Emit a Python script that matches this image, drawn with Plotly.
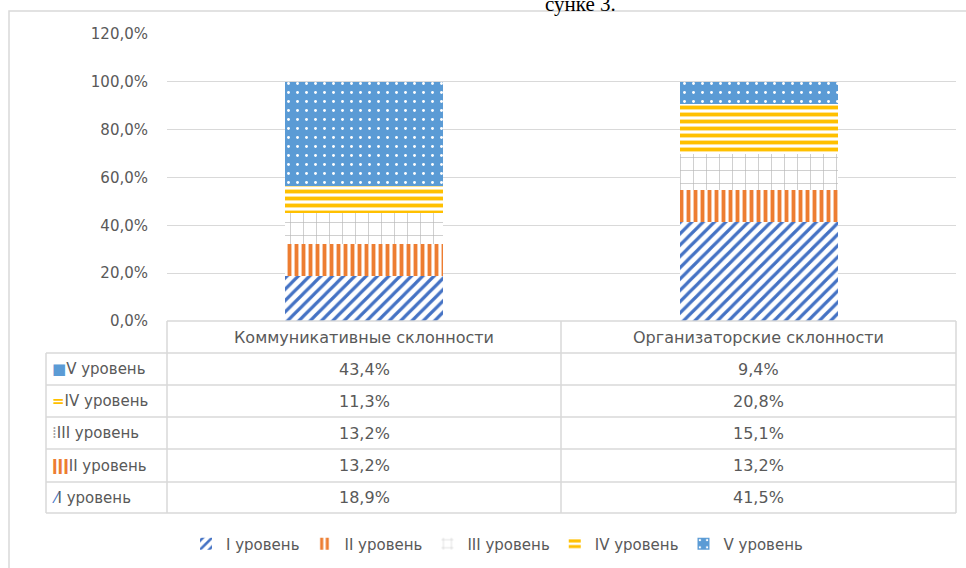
import plotly.graph_objects as go

categories = ["Коммуникативные склонности", "Организаторские склонности"]
levels = ["I уровень", "II уровень", "III уровень", "IV уровень", "V уровень"]
level_I = [0.189, 0.415]
level_II = [0.132, 0.132]
level_III = [0.132, 0.151]
level_IV = [0.113, 0.208]
level_V = [0.434, 0.094]
series = [level_I, level_II, level_III, level_IV, level_V]

styles = [
    dict(shape="/", fg="#4472C4", bg="white", size=8, sol=0.4),
    dict(shape="|", fg="#ED7D31", bg="white", size=7, sol=0.55),
    dict(shape="+", fg="#B8B8B8", bg="white", size=13, sol=0.1),
    dict(shape="-", fg="#FFC000", bg="white", size=7, sol=0.55),
    dict(shape=".", fg="white", bg="#5B9BD5", size=9, sol=0.08),
]
icons = [
    "<span style='color:#4472C4'>⁄</span>",
    "<span style='color:#ED7D31'><b>ǀǀǀ</b></span>",
    "<span style='color:#A6A6A6'>⁞</span>",
    "<span style='color:#FFC000'><b>=</b></span>",
    "<span style='color:#5B9BD5'>■</span>",
]

FONT = "DejaVu Sans"
TXT = "#595959"
L, R, T, B = 167, 10, 34, 247
W_FIG, H_FIG = 966, 568
PW = W_FIG - L - R
PH = H_FIG - T - B


def fx(px):
    return (px - L) / PW


def fy(py):
    return (H_FIG - B - py) / PH


fig = go.Figure()
for name, vals, st in zip(levels, series, styles):
    fig.add_trace(go.Bar(
        x=categories, y=vals, name=name,
        marker=dict(
            color=st["bg"], line=dict(width=0),
            pattern=dict(shape=st["shape"], fgcolor=st["fg"], bgcolor=st["bg"],
                         size=st["size"], solidity=st["sol"], fgopacity=1),
        ),
    ))

shapes = []
line = dict(color="#D9D9D9", width=1.5)
shapes.append(dict(type="rect", xref="paper", yref="paper",
                   x0=fx(9), x1=fx(975), y0=fy(11), y1=fy(580), line=line))
col_edges = [167, 561, 956]
row_edges = [321, 353, 385, 417, 449, 482, 513]
shapes.append(dict(type="line", xref="paper", yref="paper",
                   x0=fx(167), x1=fx(956), y0=fy(321), y1=fy(321), line=line))
for ry in row_edges[1:]:
    shapes.append(dict(type="line", xref="paper", yref="paper",
                       x0=fx(46), x1=fx(956), y0=fy(ry), y1=fy(ry), line=line))
for cx in col_edges:
    shapes.append(dict(type="line", xref="paper", yref="paper",
                       x0=fx(cx), x1=fx(cx), y0=fy(321), y1=fy(513), line=line))
shapes.append(dict(type="line", xref="paper", yref="paper",
                   x0=fx(46), x1=fx(46), y0=fy(353), y1=fy(513), line=line))

annotations = []
fsz = 16
for i, cat in enumerate(categories):
    cxp = (col_edges[i] + col_edges[i + 1]) / 2
    annotations.append(dict(text=cat, xref="paper", yref="paper", x=fx(cxp), y=fy(337),
                            showarrow=False, xanchor="center", yanchor="middle",
                            font=dict(family=FONT, size=fsz, color=TXT)))
row_order = [4, 3, 2, 1, 0]
for r, idx in enumerate(row_order):
    cy = (row_edges[r + 1] + row_edges[r + 2]) / 2
    annotations.append(dict(text=icons[idx] + levels[idx], xref="paper", yref="paper",
                            x=fx(50), y=fy(cy), showarrow=False, xanchor="left",
                            yanchor="middle", font=dict(family=FONT, size=fsz - 1, color=TXT)))
    for c in range(len(categories)):
        cxp = (col_edges[c] + col_edges[c + 1]) / 2
        val = f"{series[idx][c] * 100:.1f}%".replace(".", ",")
        annotations.append(dict(text=val, xref="paper", yref="paper", x=fx(cxp), y=fy(cy),
                                showarrow=False, xanchor="center", yanchor="middle",
                                font=dict(family=FONT, size=fsz, color=TXT)))
annotations.append(dict(text="сунке 3.", xref="paper", yref="paper", x=fx(580), y=fy(3.5),
                        showarrow=False, xanchor="center", yanchor="middle",
                        font=dict(family="Liberation Serif", size=21, color="black")))

fig.update_layout(
    width=W_FIG, height=H_FIG,
    margin=dict(l=L, r=R, t=T, b=B, autoexpand=False),
    paper_bgcolor="white", plot_bgcolor="white",
    barmode="stack", bargap=0.6,
    separators=", ",
    font=dict(family=FONT, size=fsz, color=TXT),
    showlegend=True,
    legend=dict(orientation="h", x=fx(497), xanchor="center", y=fy(544), yanchor="middle",
                font=dict(family=FONT, size=fsz - 1, color=TXT), traceorder="normal",
                itemwidth=30, tracegroupgap=0),
    xaxis=dict(showticklabels=False, showgrid=False, zeroline=False, showline=False,
               range=[-0.5, 1.5]),
    yaxis=dict(range=[0, 1.2], dtick=0.2, tickformat=".1%", showgrid=True,
               gridcolor="#D9D9D9", gridwidth=1, zeroline=False, showline=False,
               ticklabelstandoff=18, tickfont=dict(family=FONT, size=fsz - 1, color=TXT)),
    shapes=shapes, annotations=annotations,
)

fig.write_html("out.html", config={"displayModeBar": False},
               post_script="document.body.style.margin='0px';")
